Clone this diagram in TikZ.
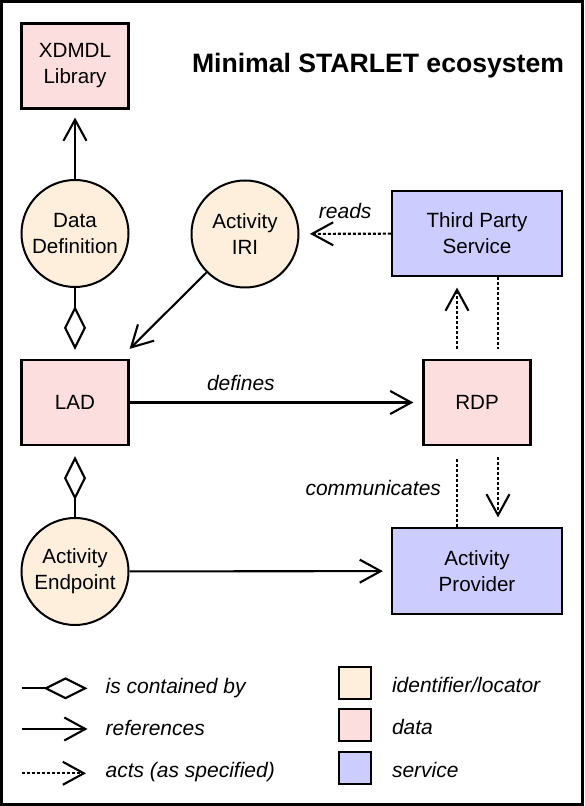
\documentclass[tikz,border=0pt]{standalone}
\usepackage{fontspec}
\setmainfont{Liberation Sans}
\usetikzlibrary{positioning,arrows.meta,calc}
\definecolor{idcol}{HTML}{FDEFDC}
\definecolor{datacol}{HTML}{FDDEDE}
\definecolor{servcol}{HTML}{CCCCFF}

\tikzset{
  databox/.style={draw, line width=2.2pt, fill=datacol, minimum width=107pt, minimum height=85pt, align=center, inner sep=0pt},
  servbox/.style={draw, line width=2.2pt, fill=servcol, minimum width=170pt, minimum height=86pt, align=center, inner sep=0pt},
  idcirc/.style={draw, circle, line width=2pt, fill=idcol, minimum size=107pt, align=center, inner sep=0pt},
  ref/.style={line width=2.1pt, -{Straight Barb[length=21pt,width=23pt,line width=2.1pt]}},
  acts/.style={line width=2.1pt, dash pattern=on 3pt off 2pt},
  actsarr/.style={acts, -{Straight Barb[length=21pt,width=23pt,line width=2.1pt,sep]}},
  contained/.style={line width=2.1pt, -{Diamond[open,length=44pt,width=22pt,line width=2.1pt]}},
  swatch/.style={draw, line width=2pt, minimum width=32pt, minimum height=32pt, inner sep=0pt},
  lbl/.style={font=\fontsize{21}{26}\selectfont\itshape, inner sep=0pt}
}

\begin{document}
\begin{tikzpicture}[x=1pt,y=1pt,font=\fontsize{20.6}{26}\selectfont]
\useasboundingbox (0,0) rectangle (584,806);
\fill[white] (0,0) rectangle (584,806);
\draw[line width=2.6pt] (1.3,1.3) rectangle (582.7,804.7);

% nodes
\node[databox] (xdmdl) at (75,740) {XDMDL\\Library};
\node[font=\fontsize{26.6}{30}\selectfont\bfseries] (title) at (378,740) {Minimal STARLET ecosystem};
\node[idcirc] (dd) at (75,572.5) {Data\\Definition};
\node[idcirc] (iri) at (245,572) {Activity\\IRI};
\node[servbox, minimum height=85pt] (tps) at (477,572.5) {Third Party\\Service};
\node[databox] (lad) at (75,403.5) {LAD};
\node[databox] (rdp) at (477,403.5) {RDP};
\node[idcirc] (ae) at (75,234.5) {Activity\\Endpoint};
\node[servbox] (ap) at (477,235) {Activity\\Provider};

% connectors
\draw[ref, shorten >=8pt] (dd) -- (xdmdl);
\draw[actsarr, shorten >=9pt] (tps) -- node[lbl, above=14pt] {reads} (iri);
\draw[contained, shorten >=9pt] (dd) -- (lad);
\draw[ref] (iri.south west) -- ([yshift=10pt]lad.north east);
\draw[ref, shorten >=9pt] (lad) -- node[lbl, above=11pt, pos=0.38] {defines} (rdp);
\draw[contained, shorten >=10pt] (ae) -- (lad);
\draw[ref, shorten >=8pt] (ae) -- (ap);

\draw[acts, shorten >=10pt] ([xshift=21pt]tps.south) -- ([xshift=21pt]rdp.north);
\draw[actsarr, shorten <=11pt, shorten >=8pt] ([xshift=21pt]rdp.south) -- ([xshift=21pt]ap.north);
\draw[acts, shorten >=11pt] ([xshift=-20pt]ap.north) -- node[lbl, left=15pt, yshift=-1pt] {communicates} ([xshift=-20pt]rdp.south);
\draw[actsarr, shorten <=10pt, shorten >=9pt] ([xshift=-20pt]rdp.north) -- ([xshift=-20pt]tps.south);

% legend
\coordinate (c1) at (21.6,117.7);
\coordinate (c2) at (87.5,117.7);
\coordinate (r1) at (21.6,77);
\coordinate (r2) at (87.5,77);
\coordinate (a1) at (21.6,32.7);
\coordinate (a2) at (87.5,32.7);
\draw[contained] (c1) -- (c2);
\draw[ref] (r1) -- (r2);
\draw[actsarr] (a1) -- (a2);
\node[lbl, anchor=west] (lcont) at (105.4,118) {is contained by};
\node[lbl, anchor=west] (lref) at (105.4,78) {references};
\node[lbl, anchor=west] (lacts) at (105.4,34) {acts (as specified)};

\node[swatch, fill=idcol] (sid) at (355.2,123) {};
\node[swatch, fill=datacol] (sdata) at (355.2,80.6) {};
\node[swatch, fill=servcol] (sserv) at (355.2,38.1) {};
\node[lbl, anchor=west] (lid) at (391.8,121) {identifier/locator};
\node[lbl, anchor=west] (ldata) at (391.8,79) {data};
\node[lbl, anchor=west] (lserv) at (391.8,36) {service};
\end{tikzpicture}
\end{document}
